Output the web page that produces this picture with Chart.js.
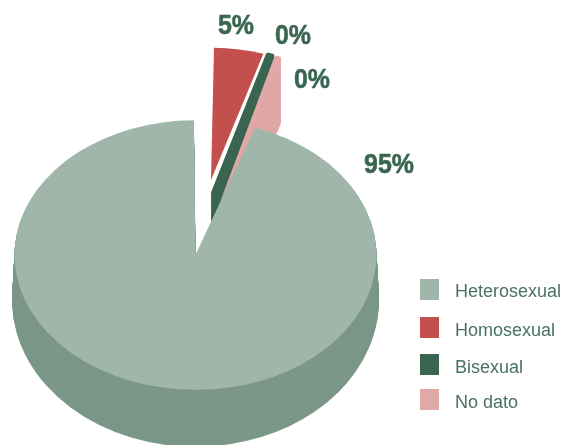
<!DOCTYPE html>
<html>
<head>
<meta charset="utf-8">
<title>Orientación sexual</title>
<script src="https://cdn.jsdelivr.net/npm/chart.js@4/dist/chart.umd.min.js"></script>
<style>
html,body{margin:0;padding:0;background:#fff;overflow:hidden;}
#wrap{position:relative;width:564px;height:445px;}
</style>
</head>
<body>
<div id="wrap"><canvas id="pieChart"></canvas></div>
<script>
const categories = ["Heterosexual","Homosexual","Bisexual","No dato"];
const shares = [94.5,4.5,0.49,0.49];

const topColors = ["#a0b6aa","#c4504e","#3a6651","#e0a8a6"];
const wallColors = ["#7b9788","#c4504e","#3a6651","#dfa7a5"];
const textColor = "#3a6651";

// the pie is flattened to this height/width ratio
const tilt = 0.745;
const pieRadius = 181;

// each wedge sits at its own spot, the big one stays in the middle
const slices = [
{x:195.5,y:255,turn:-0.6,scale:1,depth:45,growX:0.0138,growY:0.089},
{x:211,y:180,turn:0.9,scale:0.98,depth:0},
{x:212,y:193,turn:0.2,scale:1.08,depth:28},
{x:219,y:205,turn:-2.46,scale:1.15,depth:66}
];
const drawOrder = [1,2,3,0];

const valueLabels = [
{x:389,y:165},
{x:236,y:26},
{x:293,y:36},
{x:312,y:80}
];
const legendRows = [
{y:279,h:21,textY:292},
{y:317,h:21,textY:331},
{y:354,h:21,textY:368},
{y:389,h:21,textY:403}
];

function placeSlice(ctx,arc,s,drop,grow){
const k = pieRadius/arc.outerRadius*s.scale;
ctx.translate(s.x,s.y+drop);
ctx.scale(k*(1+(s.growX||0)*grow),k*tilt*(1+(s.growY||0)*grow));
ctx.rotate(s.turn*Math.PI/180);
ctx.translate(-arc.x,-arc.y);
}

const pie3d = {
id:"pie3d",
beforeDatasetDraw(chart){
const ctx = chart.ctx;
const arcs = chart.getDatasetMeta(0).data;

drawOrder.forEach(i => {
const arc = arcs[i];
const s = slices[i];
const topOptions = arc.options;

// side wall: the same wedge stacked downwards
arc.options = Object.assign({},topOptions,{backgroundColor:wallColors[i]});
for(let d=s.depth;d>0;d--){
ctx.save();
placeSlice(ctx,arc,s,d,d/s.depth);
arc.draw(ctx);
ctx.restore();
}
arc.options = topOptions;

ctx.save();
placeSlice(ctx,arc,s,0,0);
arc.draw(ctx);
ctx.restore();
});

return false;
},
afterDraw(chart){
const ctx = chart.ctx;
ctx.save();
ctx.textBaseline = "middle";
ctx.textAlign = "center";
ctx.fillStyle = textColor;
ctx.strokeStyle = textColor;
ctx.lineWidth = 0.6;
ctx.font = "bold 28px 'Liberation Sans', Arial, sans-serif";
shares.forEach((v,i) => {
// narrower than the plain bold face, with a thin stroke for weight
ctx.save();
ctx.translate(valueLabels[i].x,valueLabels[i].y);
ctx.scale(0.89,1);
ctx.fillText(Math.round(v)+"%",0,0);
ctx.strokeText(Math.round(v)+"%",0,0);
ctx.restore();
});

ctx.textAlign = "left";
ctx.font = "18px 'Liberation Sans', Arial, sans-serif";
categories.forEach((name,i) => {
const row = legendRows[i];
ctx.fillStyle = topColors[i];
ctx.fillRect(420,row.y,19,row.h);
ctx.fillStyle = "#4a7260";
ctx.fillText(name,455,row.textY);
});
ctx.restore();
}
};

new Chart(document.getElementById("pieChart"),{
type:"pie",
data:{
labels:categories,
datasets:[{
data:shares,
backgroundColor:topColors,
// the thin dark wedge needs an outline to keep its tip solid
borderWidth:[0,0,2.5,0],
borderColor:topColors,
clip:false
}]
},
options:{
responsive:true,
maintainAspectRatio:false,
animation:false,
rotation:19.8,
events:[],
plugins:{
legend:{display:false},
tooltip:{enabled:false}
}
},
plugins:[pie3d]
});
</script>
</body>
</html>
